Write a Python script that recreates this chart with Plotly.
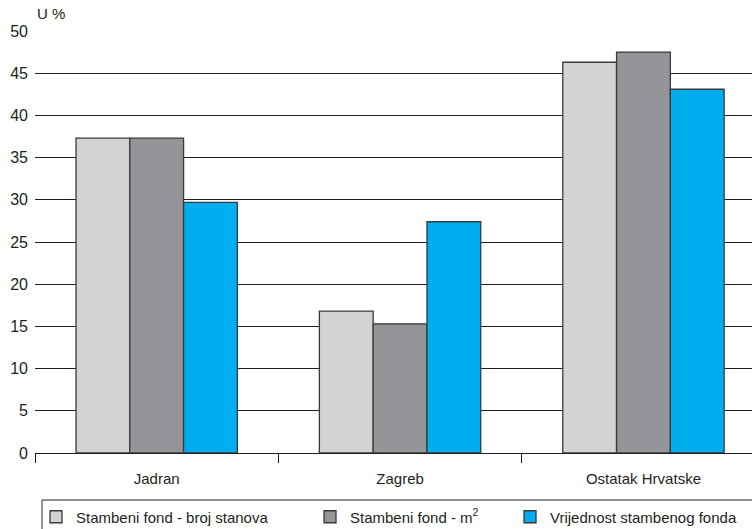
import plotly.graph_objects as go

categories = ["Jadran", "Zagreb", "Ostatak Hrvatske"]
series_names = ["Stambeni fond - broj stanova", "Stambeni fond - m<sup>2</sup>", "Vrijednost stambenog fonda"]
broj_stanova = [37.3, 16.8, 46.3]
m2 = [37.3, 15.3, 47.5]
vrijednost = [29.7, 27.4, 43.1]
y_ticks = [0, 5, 10, 15, 20, 25, 30, 35, 40, 45, 50]

colors = ["#d1d3d4", "#939598", "#00aeef"]
values = [broj_stanova, m2, vrijednost]
legend_ids = ["legend", "legend2", "legend3"]

W, H = 752, 529
L, R, T, B = 35, 0, 31, 76
pw, ph = W - L - R, H - T - B

def px_x(p):
    return (p - L) / pw

def px_y(p):
    return (H - B - p) / ph

FONT = "Liberation Sans, Arial, sans-serif"
TXT = "#231f20"

fig = go.Figure()
for name, vals, col, lg in zip(series_names, values, colors, legend_ids):
    fig.add_trace(go.Bar(
        x=categories, y=vals, name=name,
        marker=dict(color=col, line=dict(color="#3a3a3a", width=1.3)),
        legend=lg, showlegend=True,
    ))

legend_px = [36, 310, 510]
common_leg = dict(orientation="h", yanchor="middle", y=1 - 517 / H, xanchor="left",
                  xref="container", yref="container",
                  bgcolor="rgba(0,0,0,0)", borderwidth=0,
                  font=dict(family=FONT, size=15, color=TXT))
fig.update_layout(
    width=W, height=H,
    margin=dict(l=L, r=R, t=T, b=B, autoexpand=False),
    paper_bgcolor="white", plot_bgcolor="white",
    showlegend=True,
    barmode="group", bargap=0.337, bargroupgap=0,
    font=dict(family=FONT, size=15, color=TXT),
    legend=dict(x=legend_px[0] / W, **common_leg),
    legend2=dict(x=legend_px[1] / W, **common_leg),
    legend3=dict(x=legend_px[2] / W, **common_leg),
    xaxis=dict(
        type="category", range=[-0.5, 2.446], automargin=False,
        tickson="boundaries", ticks="outside", ticklen=9, tickcolor=TXT, tickwidth=1,
        showline=True, linecolor=TXT, linewidth=1,
        showgrid=False, ticklabelstandoff=12,
        tickfont=dict(family=FONT, size=15, color=TXT),
    ),
    yaxis=dict(
        range=[0, 50], tickvals=y_ticks, automargin=False,
        showgrid=True, gridcolor=TXT, gridwidth=1.2,
        zeroline=False, showline=False, ticks="",
        ticklabelstandoff=6,
        tickfont=dict(family=FONT, size=16, color=TXT),
    ),
    shapes=[dict(type="rect", xref="paper", yref="paper",
                 x0=px_x(42), x1=1.1, y0=px_y(540), y1=px_y(500),
                 line=dict(color=TXT, width=1), fillcolor="rgba(0,0,0,0)", layer="below")],
    annotations=[dict(text="U %", xref="paper", yref="paper", x=px_x(35), y=px_y(14),
                      xanchor="left", yanchor="middle", showarrow=False,
                      font=dict(family=FONT, size=15, color=TXT))],
)

fig.write_html("out.html", config={"displayModeBar": False},
               post_script="document.body.style.margin='0';")
